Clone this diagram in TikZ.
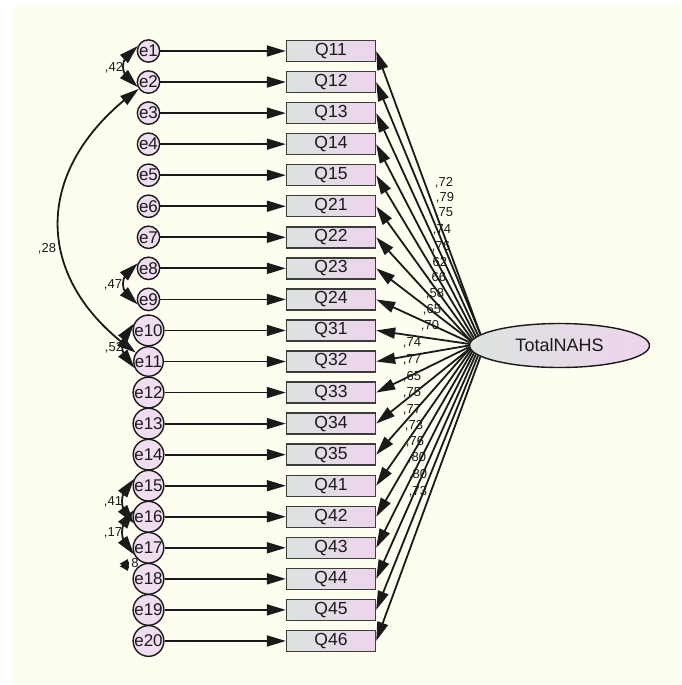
\documentclass[tikz,border=0pt]{standalone}
\usepackage{fontspec}
\setmainfont{Liberation Sans}
\usetikzlibrary{arrows.meta,bending,shapes.geometric}
\definecolor{bg}{HTML}{FEFEF0}
\definecolor{pinkf}{HTML}{EDD4EC}
\definecolor{grayf}{HTML}{DCE3DF}
\definecolor{errf}{HTML}{F0DDF0}
\definecolor{ink}{HTML}{1A1A1A}
\tikzset{
  err/.style={circle, draw=ink, line width=1.4pt, fill=errf, minimum size=22pt, inner sep=0pt,
    font=\fontsize{17}{17}\selectfont, text=ink},
  obs/.style={rectangle, draw=ink!85, line width=1.4pt, left color=grayf, right color=pinkf,
    minimum width=89pt, minimum height=21pt, inner sep=0pt, font=\fontsize{17.5}{17.5}\selectfont, text=ink},
  lat/.style={ellipse, draw=ink, line width=1.4pt, left color=grayf, right color=pinkf,
    minimum width=180pt, minimum height=44pt, inner sep=0pt, font=\fontsize{18}{18}\selectfont, text=ink},
  regarrow/.style={draw=ink, line width=1.8pt, -{Triangle[length=19pt,width=11pt]}},
  cov/.style={draw=ink, line width=1.8pt, {Triangle[length=19pt,width=11pt]}-{Triangle[length=19pt,width=11pt]}},
  covsmall/.style={draw=ink, line width=1.8pt, {Triangle[length=8pt,width=10pt]}-{Triangle[length=8pt,width=10pt]}},
  lbl/.style={font=\fontsize{13}{13}\selectfont, text=ink, inner sep=0pt},
}
\begin{document}
\begin{tikzpicture}[x=1pt,y=1pt]
\useasboundingbox (0,0) rectangle (681,-685);
\fill[bg] (13,-5) rectangle (681,-685);
% latent
\node[lat] (T) at (559.5,-345.5) {TotalNAHS};
% indicators and errors
\foreach \i/\q in {1/11,2/12,3/13,4/14,5/15,6/21,7/22,8/23,9/24,10/31,11/32,12/33,13/34,14/35,15/41,16/42,17/43,18/44,19/45,20/46}{
  \pgfmathsetmacro\yy{-(51+31.05*(\i-1))}
  \node[err] (e\i) at (148.5,\yy) {e\i};
  \node[obs] (q\i) at (331,\yy) {Q\q};
  \draw[regarrow] (e\i) -- (q\i);
}
% loading labels
\foreach \v/\lx/\ly in {72/444/183,79/445/198,75/444/213,74/442/230,76/441/247,62/438/263,66/437/278,58/435/294,65/432/310,70/430/326,
  74/412/343,77/412/360,65/412/377,75/412/393,77/412/410,73/414/426,76/415/442,80/417/458,80/418/475,73/418/492}{
  \node[lbl] at (\lx,-\ly) {,\v};
}
% loadings
\foreach \i in {1,...,20}{
  \pgfmathtruncatemacro\ang{172+(\i-1)*16/19}
  \draw[regarrow] (T.\ang) -- (q\i.east);
}
% covariance labels
\node[lbl] (c1) at (114,-68) {,42};
\node[lbl] (c2) at (113,-285) {,47};
\node[lbl] (c3) at (114,-348) {,52};
\node[lbl] (c4) at (113,-502) {,41};
\node[lbl] (c5) at (113,-533) {,17};
\node[lbl] (c6) at (47,-249) {,28};
\node[lbl] (c7) at (135,-563) {8};
% covariances
\draw[cov] (e1.155) .. controls (118,-58) and (118,-75) .. (e2.205);
\draw[cov] (e8.155) .. controls (118,-275.35) and (118,-292.4) .. (e9.205);
\draw[cov] (e10.155) .. controls (118,-337.45) and (118,-354.5) .. (e11.205);
\draw[cov] (e15.155) .. controls (118,-492.7) and (118,-509.8) .. (e16.205);
\draw[cov] (e16.155) .. controls (118,-523.8) and (118,-540.8) .. (e17.205);
\draw[cov] (e2.215) .. controls (31,-167) and (31,-280) .. (e11.145);
\coordinate (s1) at (128,-559);
\coordinate (s2) at (128,-571);
\draw[covsmall] (s1) to[bend right=80] (s2);
\end{tikzpicture}
\end{document}
